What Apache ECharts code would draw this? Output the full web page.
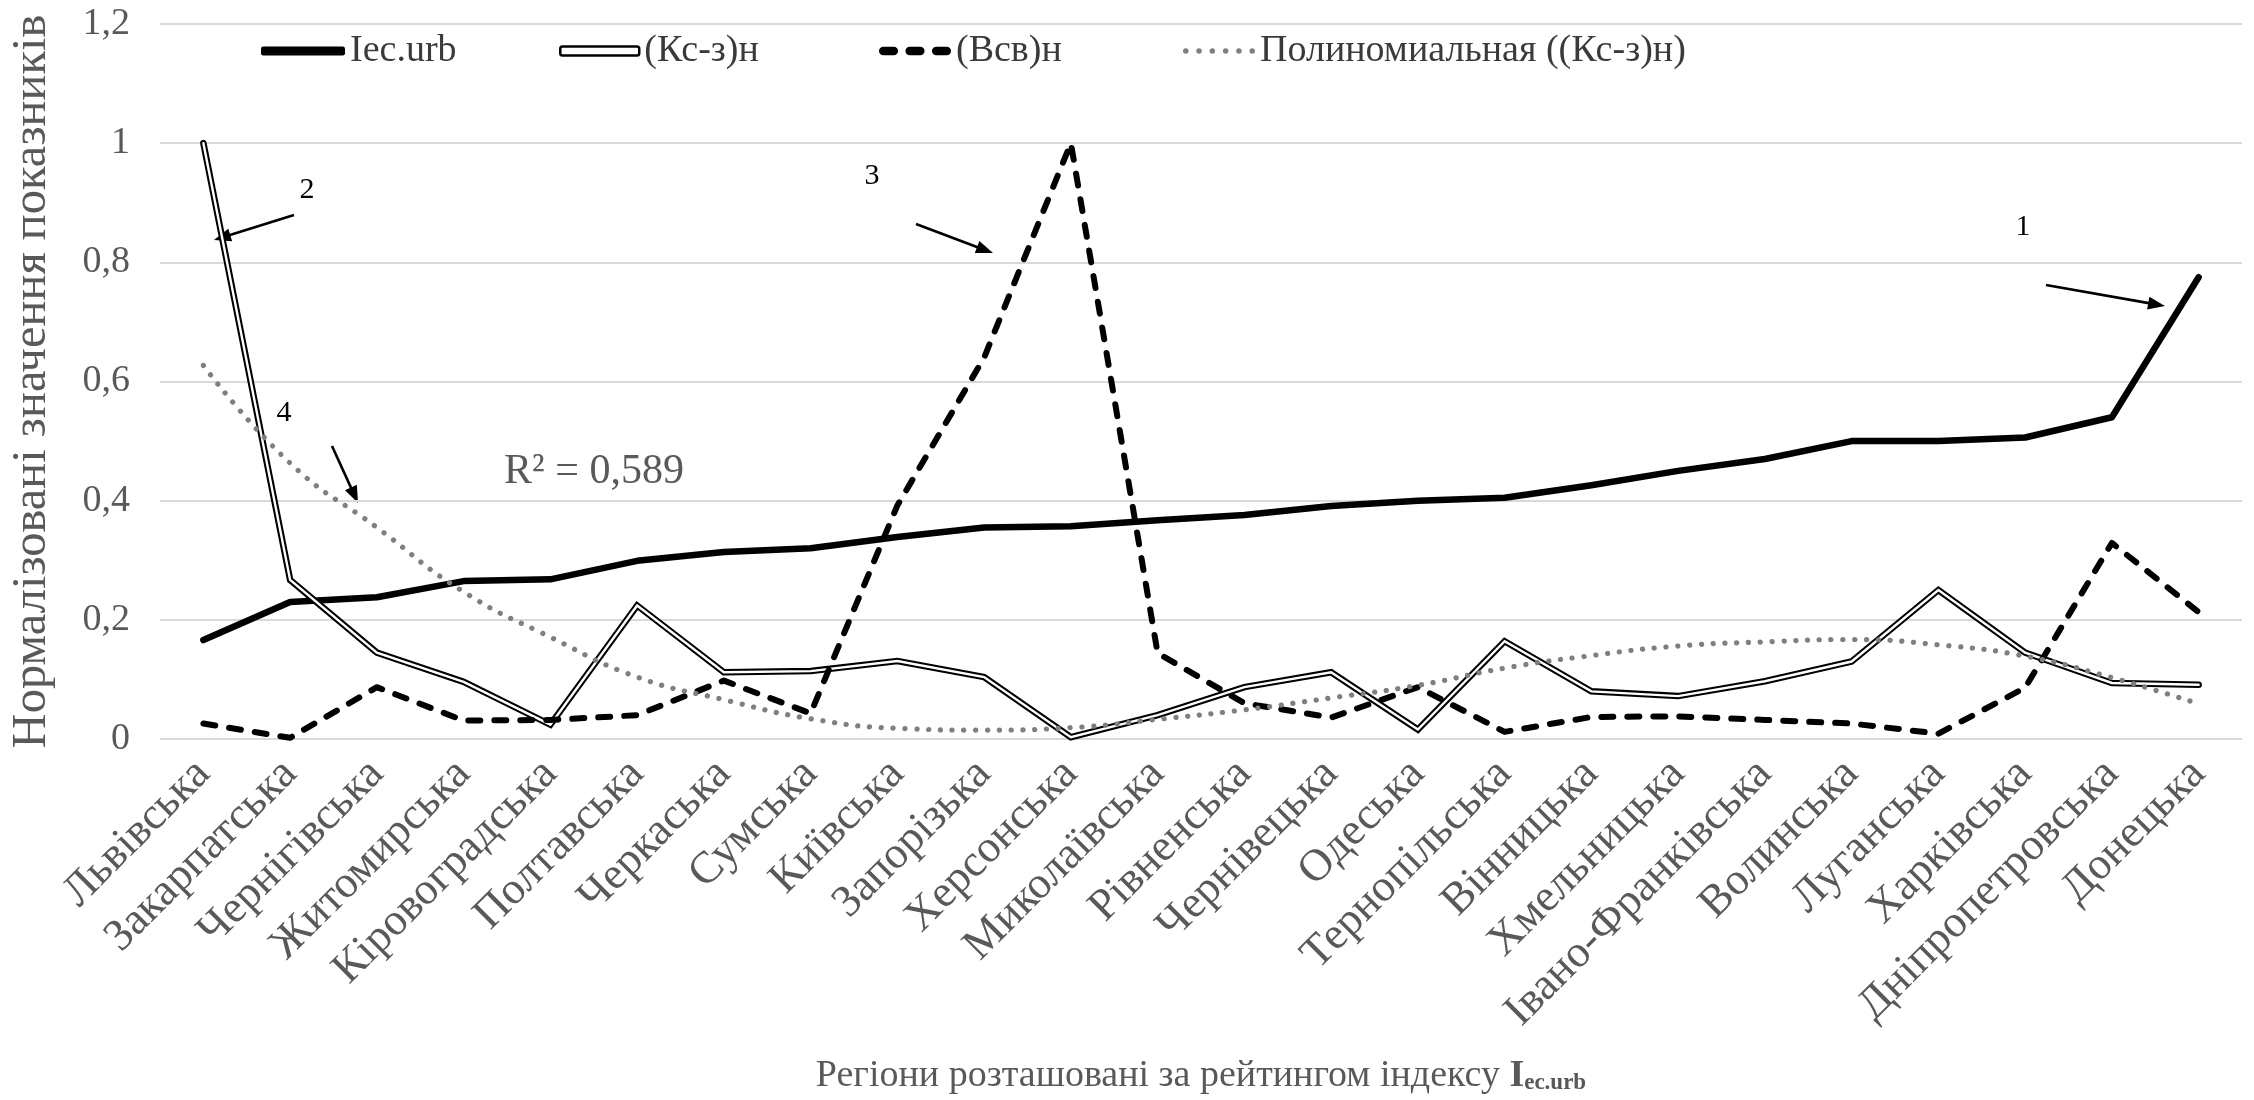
<!DOCTYPE html>
<html>
<head>
<meta charset="utf-8">
<script src="https://cdn.jsdelivr.net/npm/echarts@6/dist/echarts.min.js"></script>
<style>
html,body{margin:0;padding:0;background:#fff;}
#c{width:2254px;height:1100px;}
</style>
</head>
<body>
<div id="c"></div>
<script>
var categories = ['Львівська','Закарпатська','Чернігівська','Житомирська','Кіровоградська','Полтавська','Черкаська','Сумська','Київська','Запорізька','Херсонська','Миколаївська','Рівненська','Чернівецька','Одеська','Тернопільська','Вінницька','Хмельницька','Івано-Франківська','Волинська','Луганська','Харківська','Дніпропетровська','Донецька'];
var iecUrb = [0.166,0.23,0.238,0.265,0.268,0.299,0.314,0.32,0.339,0.355,0.357,0.367,0.376,0.391,0.40,0.405,0.426,0.45,0.47,0.50,0.50,0.506,0.54,0.775];
var ksz = [1.0,0.267,0.145,0.096,0.024,0.224,0.112,0.114,0.131,0.104,0.003,0.04,0.087,0.112,0.016,0.164,0.08,0.072,0.097,0.13,0.25,0.145,0.094,0.091];
var vsv = [0.026,0.002,0.087,0.031,0.032,0.04,0.098,0.043,0.392,0.64,1.0,0.144,0.06,0.036,0.087,0.012,0.037,0.038,0.032,0.026,0.009,0.086,0.329,0.213];
var trend = [0.627,0.463,0.355,0.247,0.171,0.104,0.066,0.034,0.018,0.015,0.019,0.033,0.049,0.069,0.09,0.119,0.14,0.156,0.163,0.167,0.158,0.139,0.103,0.059];
var yTicks = {min:0, max:1.2, interval:0.2};
var seriesNames = ['Iec.urb','(Кс-з)н','(Всв)н','Полиномиальная ((Кс-з)н)'];
var r2Text = 'R² = 0,589';
var yTitle = 'Нормалізовані значення показників';
var xTitleMain = 'Регіони розташовані за рейтингом індексу ';

var FONT = '"Liberation Serif","Times New Roman",serif';
var GRAY = '#595959';

function arrow(x1,y1,x2,y2){
  var dx=x2-x1, dy=y2-y1, len=Math.sqrt(dx*dx+dy*dy);
  var ux=dx/len, uy=dy/len, hl=17, hw=6.5;
  var bx=x2-ux*hl, by=y2-uy*hl;
  return [
    {type:'line', shape:{x1:x1,y1:y1,x2:bx+ux*2,y2:by+uy*2}, style:{stroke:'#000', lineWidth:2.6}},
    {type:'polygon', shape:{points:[[x2,y2],[bx-uy*hw,by+ux*hw],[bx+uy*hw,by-ux*hw]]}, style:{fill:'#000'}}
  ];
}
function label(t,x,y){
  return {type:'text', x:x, y:y, style:{text:t, font:'30px '+FONT, fill:'#000', align:'center', verticalAlign:'middle'}};
}

var graphics = [];
graphics = graphics.concat(arrow(294,215,214,240), arrow(916,224,993,253), arrow(2046,285,2165,306), arrow(332,446,358,503));
graphics.push(label('2',307,190), label('3',872,176), label('1',2023,227), label('4',284,413));
graphics.push({type:'text', x:594, y:472, style:{text:r2Text, font:'42px '+FONT, fill:GRAY, align:'center', verticalAlign:'middle'}});

var legendText = {fontFamily:FONT, fontSize:38, color:'#3a3a3a'};
function legendAt(left, width, item){
  return {left:left, top:27, itemWidth:width, itemHeight:9, itemGap:0, textStyle:legendText, data:[item]};
}

var chart = echarts.init(document.getElementById('c'), null, {renderer:'canvas'});
chart.setOption({
  animation:false,
  backgroundColor:'#fff',
  grid:{left:148, right:12, top:24, bottom:343, containLabel:false},
  legend:[
    legendAt(256, 84, {name:seriesNames[0], icon:'roundRect', itemStyle:{color:'#000', borderWidth:0}}),
    legendAt(554, 79, {name:seriesNames[1], icon:'roundRect', itemStyle:{color:'#fff', borderColor:'#000', borderWidth:2.5}}),
    legendAt(874, 72, {name:seriesNames[2], icon:'path://M4,0h10a4,4 0 0 1 0,8h-10a4,4 0 0 1 0,-8z M29,0h10a4,4 0 0 1 0,8h-10a4,4 0 0 1 0,-8z M54,0h10a4,4 0 0 1 0,8h-10a4,4 0 0 1 0,-8z', itemStyle:{color:'#000', borderWidth:0}}),
    legendAt(1178, 72, {name:seriesNames[3], icon:'path://M0,2.5a2.5,2.5 0 1 0 5,0a2.5,2.5 0 1 0 -5,0z M12,2.5a2.5,2.5 0 1 0 5,0a2.5,2.5 0 1 0 -5,0z M24,2.5a2.5,2.5 0 1 0 5,0a2.5,2.5 0 1 0 -5,0z M36,2.5a2.5,2.5 0 1 0 5,0a2.5,2.5 0 1 0 -5,0z M48,2.5a2.5,2.5 0 1 0 5,0a2.5,2.5 0 1 0 -5,0z M60,2.5a2.5,2.5 0 1 0 5,0a2.5,2.5 0 1 0 -5,0z', itemStyle:{color:'#808080', borderWidth:0}})
  ],
  xAxis:{
    type:'category', data:categories, boundaryGap:true,
    axisLine:{show:false}, axisTick:{show:false},
    axisLabel:{rotate:45, margin:28, interval:0, fontFamily:FONT, fontSize:45, color:GRAY},
    name:'', nameLocation:'middle', nameGap:318,
    nameTextStyle:{
      rich:{
        a:{fontFamily:FONT, fontSize:38, color:GRAY},
        b:{fontFamily:FONT, fontSize:38, color:GRAY, fontWeight:'bold'},
        c:{fontFamily:FONT, fontSize:23, color:GRAY, fontWeight:'bold', padding:[14,0,0,0]}
      }
    }
  },
  yAxis:{
    type:'value', min:yTicks.min, max:yTicks.max, interval:yTicks.interval,
    axisLine:{show:false}, axisTick:{show:false},
    splitLine:{lineStyle:{color:'#d9d9d9', width:2}},
    axisLabel:{margin:30, fontFamily:FONT, fontSize:38, color:GRAY,
      formatter:function(v){return String(+v.toFixed(1)).replace('.',',');}},
    name:yTitle, nameLocation:'middle', nameGap:103, nameRotate:90,
    nameTextStyle:{fontFamily:FONT, fontSize:48.5, color:GRAY}
  },
  series:[
    {name:seriesNames[0], type:'line', data:iecUrb, symbol:'none', z:2,
     lineStyle:{color:'#000', width:6.5, cap:'round', join:'round'}, itemStyle:{color:'#000'}},
    {name:seriesNames[1], type:'line', data:ksz, symbol:'none', z:3,
     lineStyle:{color:'#000', width:6.5, cap:'round', join:'miter'}, itemStyle:{color:'#000'}},
    {name:'inner', type:'line', data:ksz, symbol:'none', z:4, silent:true,
     lineStyle:{color:'#fff', width:2.4, cap:'round', join:'miter'}, itemStyle:{color:'#fff'}},
    {name:seriesNames[2], type:'line', data:vsv, symbol:'none', z:5,
     lineStyle:{color:'#000', width:6, type:[12,14], cap:'round', join:'round'}, itemStyle:{color:'#000'}},
    {name:seriesNames[3], type:'line', data:trend, symbol:'none', smooth:0.5, z:6,
     lineStyle:{color:'#7f7f7f', width:5.2, type:[0.1,11.7], cap:'round'}, itemStyle:{color:'#7f7f7f'}}
  ],
  graphic:graphics
});
chart.setOption({xAxis:{name:'{a|'+xTitleMain+'}{b|I}{c|ec.urb}'}});
</script>
</body>
</html>
